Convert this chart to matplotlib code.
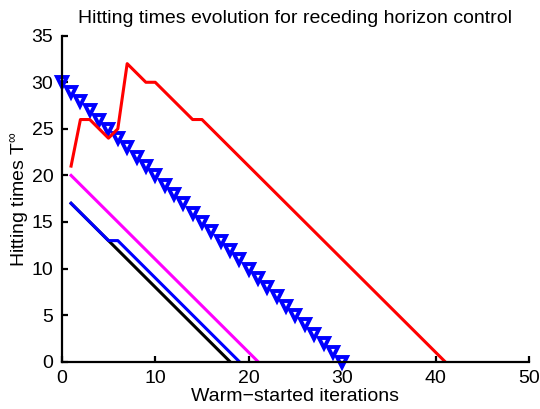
import matplotlib
matplotlib.use("Agg")
import matplotlib.pyplot as plt

plt.rcParams["font.family"] = ["Liberation Sans", "DejaVu Sans"]
plt.rcParams["mathtext.fontset"] = "custom"
plt.rcParams["mathtext.rm"] = "Liberation Sans"
plt.rcParams["mathtext.it"] = "Liberation Sans"

# red: receding horizon hitting times
red_x = [1, 2, 3, 5, 6, 7, 8, 9, 10, 14, 15, 41]
red_y = [21, 26, 26, 24, 25, 32, 31, 30, 30, 26, 26, 0]

magenta_x = [1, 21]
magenta_y = [20, 0]

blue_x = [1, 5, 6, 19]
blue_y = [17, 13, 13, 0]

black_x = [1, 5, 18]
black_y = [17, 13, 0]

tri_x = list(range(0, 31))
tri_y = [30 - k for k in tri_x]

fig = plt.figure(figsize=(5.4, 4.09), dpi=100)
ax = fig.add_axes([0.1143, 0.1157, 0.8657, 0.797])

lw = 2.2
ax.plot(black_x, black_y, color="black", lw=lw)
ax.plot(blue_x, blue_y, color="#0000ff", lw=lw)
ax.plot(magenta_x, magenta_y, color="#ff00ff", lw=lw)
ax.plot(tri_x, tri_y, linestyle="none", marker="v", markersize=6.5, clip_on=False,
        markerfacecolor="white", markeredgecolor="#0000ff", markeredgewidth=2.8)
ax.plot(red_x, red_y, color="#ff0000", lw=lw)

ax.set_xlim(0, 50)
ax.set_ylim(0, 35)
ax.set_xticks(range(0, 51, 10))
ax.set_yticks(range(0, 36, 5))
ax.spines["top"].set_visible(False)
ax.spines["right"].set_visible(False)
ax.spines["left"].set_linewidth(1.6)
ax.spines["bottom"].set_linewidth(1.6)
ax.tick_params(direction="in", length=4, width=1.6, labelsize=14, pad=6)

ax.set_title("Hitting times evolution for receding horizon control", fontsize=14, pad=9)
ax.set_xlabel("Warm\u2212started iterations", fontsize=14, labelpad=1)
ax.set_ylabel(r"Hitting times T$^{\infty}$", fontsize=14, labelpad=1)

fig.savefig("out.png", dpi=100)
